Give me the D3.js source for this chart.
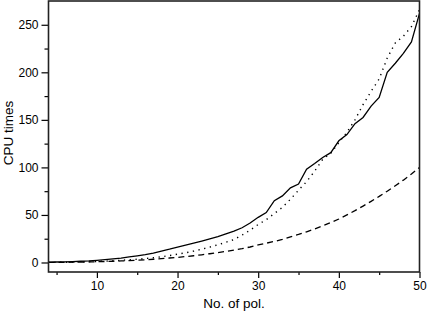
<!DOCTYPE html>
<html>
<head>
<meta charset="utf-8">
<script src="https://cdn.jsdelivr.net/npm/d3@7"></script>
<style>
  body { margin: 0; background: #fff; }
  svg { display: block; font-family: "Liberation Sans", Arial, sans-serif; }
</style>
</head>
<body>
<div id="chart"></div>
<script>
// number of polygons
const pols = d3.range(4, 51);
// solid curve
const solidTimes = [0.3, 0.5, 0.7, 1.0, 1.3, 1.7, 2.3, 3.0, 3.8, 4.7, 5.8, 7.0, 8.3, 9.8, 12.0, 14.0,
  16.2, 18.2, 20.3, 22.5, 24.8, 27.2, 30.0, 33.0, 36.5, 41.5, 47.5, 52.5, 65.0, 70.0, 78.5, 82.5,
  98.0, 104.0, 110.5, 115.5, 128.0, 134.5, 146.0, 152.5, 164.5, 173.5, 200.0, 209.5, 220.0, 232.0, 262.0];
// dotted curve
const dottedTimes = [0.1, 0.2, 0.3, 0.4, 0.6, 0.8, 1.1, 1.4, 1.8, 2.3, 2.8, 3.4, 4.1, 5.0, 6.0, 7.3,
  8.7, 10.2, 12.0, 14.0, 16.2, 18.6, 21.3, 24.2, 28.8, 34.0, 40.0, 45.0, 51.5, 58.0, 66.5, 76.0,
  85.0, 96.0, 108.5, 115.0, 126.0, 137.0, 150.0, 166.0, 180.0, 193.0, 215.0, 231.0, 238.0, 248.0, 266.0];
// dashed curve
const dashedTimes = [0.1, 0.1, 0.2, 0.3, 0.4, 0.6, 0.8, 1.0, 1.3, 1.6, 2.0, 2.4, 2.9, 3.4, 4.0, 4.7,
  5.4, 6.2, 7.1, 8.1, 9.2, 10.4, 11.7, 13.1, 14.6, 16.3, 18.5, 20.3, 22.2, 24.2, 27.0, 29.5,
  32.3, 35.3, 38.5, 42.0, 45.7, 50.0, 54.5, 59.3, 64.3, 69.5, 75.0, 80.7, 86.6, 93.0, 100.0];
const xTicks = [10, 20, 30, 40, 50];
const xMinor = [5, 15, 25, 35, 45];
const yTicks = [0, 50, 100, 150, 200, 250];
const yMinor = [25, 75, 125, 175, 225];

const width = 427, height = 311;
const margin = { top: 1, right: 7.5, bottom: 39, left: 48.5 };
const visWidth = width - margin.left - margin.right;
const visHeight = height - margin.top - margin.bottom;

const x = d3.scaleLinear().domain([4, 50]).range([0, visWidth]);
const y = d3.scaleLinear().domain([-10, 275]).range([visHeight, 0]);

const svg = d3.select('#chart').append('svg')
  .attr('width', width)
  .attr('height', height);

const g = svg.append('g')
  .attr('transform', `translate(${margin.left}, ${margin.top})`);

// x axis: major + minor ticks pointing out
const xAxisG = g.append('g').attr('transform', `translate(0, ${visHeight})`);
xAxisG.append('g')
  .call(d3.axisBottom(x).tickValues(xTicks).tickSize(6).tickPadding(3))
  .call(a => a.select('.domain').remove())
  .call(a => a.selectAll('text').attr('font-size', 12).attr('fill', '#000'));
xAxisG.append('g')
  .call(d3.axisBottom(x).tickValues(xMinor).tickSize(3).tickFormat(''))
  .call(a => a.select('.domain').remove());

// y axis
const yAxisG = g.append('g');
yAxisG.append('g')
  .call(d3.axisLeft(y).tickValues(yTicks).tickSize(7).tickPadding(3))
  .call(a => a.select('.domain').remove())
  .call(a => a.selectAll('text').attr('font-size', 12).attr('fill', '#000'));
yAxisG.append('g')
  .call(d3.axisLeft(y).tickValues(yMinor).tickSize(4).tickFormat(''))
  .call(a => a.select('.domain').remove());

g.selectAll('.tick line').attr('stroke', '#000').attr('stroke-width', 1.2);

// series
const series = [
  { values: solidTimes, dash: null, w: 1.3 },
  { values: dottedTimes, dash: '1.3,4.5', w: 1.4 },
  { values: dashedTimes, dash: '6,4', w: 1.3 }
];
const line = d3.line()
  .x(d => x(d[0]))
  .y(d => y(d[1]));

g.append('defs').append('clipPath').attr('id', 'clip')
  .append('rect').attr('width', visWidth).attr('height', visHeight);

g.append('g').attr('clip-path', 'url(#clip)')
  .selectAll('path')
  .data(series)
  .join('path')
  .attr('d', s => line(pols.map((p, i) => [p, s.values[i]])))
  .attr('fill', 'none')
  .attr('stroke', '#000')
  .attr('stroke-width', s => s.w)
  .attr('stroke-dasharray', s => s.dash);

// frame
g.append('rect')
  .attr('width', visWidth)
  .attr('height', visHeight)
  .attr('fill', 'none')
  .attr('stroke', '#222')
  .attr('stroke-width', 1.6);

// axis labels
svg.append('text')
  .attr('x', 234)
  .attr('y', 308)
  .attr('text-anchor', 'middle')
  .attr('font-size', 13.5)
  .text('No. of pol.');

svg.append('text')
  .attr('transform', 'translate(12.5, 133) rotate(-90)')
  .attr('text-anchor', 'middle')
  .attr('font-size', 13.5)
  .text('CPU times');
</script>
</body>
</html>
